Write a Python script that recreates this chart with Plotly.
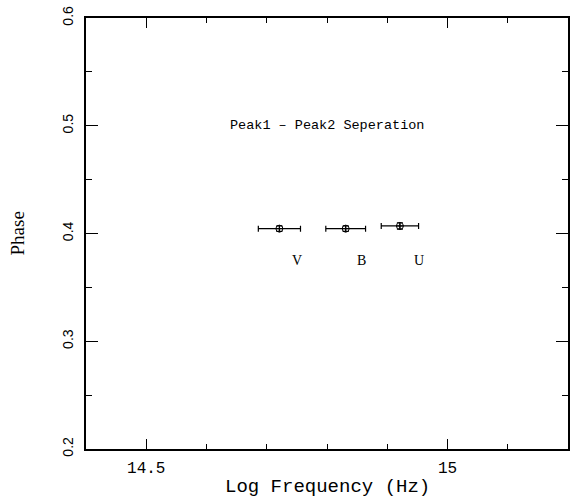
import plotly.graph_objects as go

bands = ["V", "B", "U"]
log_freq = [14.721, 14.831, 14.921]
log_freq_err = [0.035, 0.033, 0.031]
phase = [0.4045, 0.4045, 0.407]
phase_err = [0.0025, 0.0025, 0.003]
label_x = [14.751, 14.857, 14.952]
label_y = [0.3748, 0.3748, 0.3748]
title_text = "Peak1 \u2013 Peak2 Seperation"

fig = go.Figure()
fig.add_trace(go.Scatter(
    x=log_freq, y=phase, mode="markers",
    marker=dict(symbol="circle-cross-open", size=7, color="black", line=dict(width=1, color="black")),
    error_x=dict(type="data", array=log_freq_err, color="black", thickness=1.2, width=3),
    error_y=dict(type="data", array=phase_err, color="black", thickness=1.2, width=3),
    showlegend=False, hoverinfo="skip",
))

for b, lx, ly in zip(bands, label_x, label_y):
    fig.add_annotation(x=lx, y=ly, text=b, showarrow=False,
                       font=dict(family="Liberation Serif", size=14, color="black"))

fig.add_annotation(x=14.80, y=0.5, text=title_text, showarrow=False,
                   font=dict(family="Liberation Mono", size=13.5, color="black"))

fig.add_annotation(xref="paper", yref="paper", x=0.5, y=0, yshift=-38, text="Log Frequency (Hz)",
                   showarrow=False, xanchor="center", yanchor="middle",
                   font=dict(family="Liberation Mono", size=19, color="black"))
fig.add_annotation(xref="paper", yref="paper", x=0, xshift=-69, y=0.5, text="Phase", textangle=-90,
                   showarrow=False, xanchor="center", yanchor="middle",
                   font=dict(family="Liberation Serif", size=19, color="black"))

fig.update_xaxes(range=[14.4, 15.2], tickvals=[14.5, 15.0], ticktext=["14.5", "15"],
                 ticks="inside", ticklen=10, tickwidth=1.2, tickcolor="black", ticklabelstandoff=3,
                 minor=dict(dtick=0.1, tick0=14.4, ticks="inside", ticklen=5, tickwidth=1.2, tickcolor="black"),
                 showline=True, linewidth=2, linecolor="black", mirror="allticks",
                 showgrid=False, zeroline=False,
                 tickfont=dict(family="Liberation Mono", size=16, color="black"))
fig.update_yaxes(range=[0.2, 0.6], tickvals=[0.2, 0.3, 0.4, 0.5, 0.6], ticktext=["0.2", "0.3", "0.4", "0.5", "0.6"],
                 ticks="inside", ticklen=12, tickwidth=1.2, tickcolor="black", tickangle=-90, ticklabelstandoff=5,
                 minor=dict(dtick=0.05, tick0=0.2, ticks="inside", ticklen=6, tickwidth=1.2, tickcolor="black"),
                 showline=True, linewidth=2, linecolor="black", mirror="allticks",
                 showgrid=False, zeroline=False,
                 tickfont=dict(family="Liberation Sans", size=14, color="black"))

fig.update_layout(width=571, height=502, margin=dict(l=86, r=1, t=18, b=53),
                  plot_bgcolor="white", paper_bgcolor="white")
fig.write_html("out.html", config={"displayModeBar": False},
               post_script="document.body.style.margin='0';")
